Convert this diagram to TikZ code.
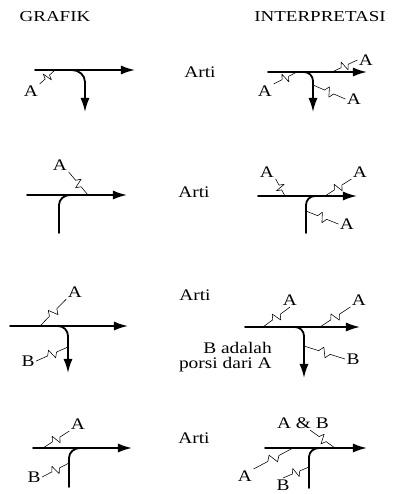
\documentclass[tikz,border=0pt]{standalone}
\usepackage{fontspec}
\setmainfont{Liberation Serif}[FakeStretch=1.2]
\newfontfamily\headfont{Liberation Serif}[FakeStretch=1.25]
\usetikzlibrary{arrows.meta,calc}
\tikzset{
  flow/.style={line width=1.3pt},
  lbl/.style={inner sep=1pt},
  txt/.style={inner sep=0pt},
  head/.style={inner sep=0pt,font=\headfont\fontsize{10.8}{12}\selectfont},
  squig/.style={line width=0.65pt,to path={-- ($(\tikztostart)!0.36!(\tikztotarget)$)
    -- ($(\tikztostart)!0.45!(\tikztotarget)!3.5pt!90:(\tikztotarget)$)
    -- ($(\tikztostart)!0.55!(\tikztotarget)!3.5pt!-90:(\tikztotarget)$)
    -- ($(\tikztostart)!0.64!(\tikztotarget)$) -- (\tikztotarget)}}
}
\begin{document}
\begin{tikzpicture}[x=0.025cm,y=-0.025cm,line cap=round,line join=round,
  >={Latex[length=10pt,width=6.5pt]},font=\fontsize{11.5}{13}\selectfont]
  \useasboundingbox (0,0) rectangle (393,494);
  \node[head] (grafik) at (55,17) {GRAFIK};
  \node[head] (interp) at (320,17) {INTERPRETASI};
  % baris 1
  \draw[flow,->] (35,70) -- (135,70);
  \draw[flow,->] (72,70) to[out=0,in=90] (85,82) -- (85,112);
  \coordinate (g1p) at (55,70);
  \node[lbl] (g1a) at (31,91) {A};
  \draw (g1p) to[squig] (g1a.north east);
  \node[txt,anchor=base] (arti1) at (200,77) {Arti};
  \draw[flow,->] (268,72) -- (367,72);
  \draw[flow,->] (304,72) to[out=0,in=90] (313,81) -- (313,112);
  \coordinate (i1p) at (332,72);
  \coordinate (i1q) at (297,72);
  \coordinate (i1r) at (313,85);
  \node[lbl] (i1a) at (366,60) {A};
  \node[lbl] (i1b) at (265,91) {A};
  \node[lbl] (i1c) at (354,99) {A};
  \draw (i1p) to[squig] (i1a.west);
  \draw (i1q) to[squig] (i1b.north east);
  \draw (i1r) to[squig] (i1c.west);
  % baris 2
  \draw[flow,->] (27,195) -- (127,195);
  \draw[flow] (59,233) -- (59,205) to[out=90,in=180] (70,195);
  \coordinate (g2p) at (88,195);
  \node[lbl] (g2a) at (60,165) {A};
  \draw (g2p) to[squig] (g2a.south east);
  \node[txt,anchor=base] (arti2) at (194,197) {Arti};
  \draw[flow,->] (258,196) -- (357,196);
  \draw[flow] (306,233) -- (306,205) to[out=90,in=180] (315,196);
  \coordinate (i2p) at (285,196);
  \coordinate (i2q) at (325,196);
  \coordinate (i2r) at (306,211);
  \node[lbl] (i2a) at (267,172) {A};
  \node[lbl] (i2b) at (360,172) {A};
  \node[lbl] (i2c) at (347,224) {A};
  \draw (i2p) to[squig] (i2a.south east);
  \draw (i2q) to[squig] (i2b.south west);
  \draw (i2r) to[squig] (i2c.west);
  % baris 3
  \draw[flow,->] (10,326) -- (128,326);
  \draw[flow,->] (58,326) to[out=0,in=90] (68,336) -- (68,373);
  \coordinate (g3p) at (40,326);
  \coordinate (g3q) at (68,347);
  \node[lbl] (g3a) at (75,292) {A};
  \node[lbl] (g3b) at (28,361) {B};
  \draw (g3p) to[squig] (g3a.south west);
  \draw (g3q) to[squig] (g3b.east);
  \node[txt,anchor=base] (arti3) at (195,300) {Arti};
  \node[txt,anchor=base east] (note1) at (272,353) {B adalah};
  \node[txt,anchor=base east] (note2) at (272,368) {porsi dari A};
  \draw[flow,->] (245,327) -- (360,327);
  \draw[flow,->] (295,327) to[out=0,in=90] (304,336) -- (304,378);
  \coordinate (i3p) at (263,327);
  \coordinate (i3q) at (320,327);
  \coordinate (i3r) at (304,346);
  \node[lbl] (i3a) at (290,300) {A};
  \node[lbl] (i3b) at (359,300) {A};
  \node[lbl] (i3c) at (353,359) {B};
  \draw (i3p) to[squig] (i3a.south);
  \draw (i3q) to[squig] (i3b.south west);
  \draw (i3r) to[squig] (i3c.west);
  % baris 4
  \draw[flow,->] (33,448) -- (132,448);
  \draw[flow] (69,487) -- (69,458) to[out=90,in=180] (80,448);
  \coordinate (g4p) at (43,448);
  \coordinate (g4q) at (69,463);
  \node[lbl] (g4a) at (78,424) {A};
  \node[lbl] (g4b) at (34,477) {B};
  \draw (g4p) to[squig] (g4a.south west);
  \draw (g4q) to[squig] (g4b.east);
  \node[txt,anchor=base] (arti4) at (194,443) {Arti};
  \draw[flow,->] (265,448) -- (367,448);
  \draw[flow] (309,488) -- (309,457) to[out=90,in=180] (319,448);
  \coordinate (i4p) at (335,448);
  \coordinate (i4q) at (293,448);
  \coordinate (i4r) at (309,467);
  \node[lbl] (i4a) at (303,423) {A \& B};
  \node[lbl] (i4b) at (245,476) {A};
  \node[lbl] (i4c) at (283,485) {B};
  \draw (i4p) to[squig] (i4a.-45);
  \draw (i4q) to[squig] (i4b.north east);
  \draw (i4r) to[squig] (i4c.north);
\end{tikzpicture}
\end{document}
